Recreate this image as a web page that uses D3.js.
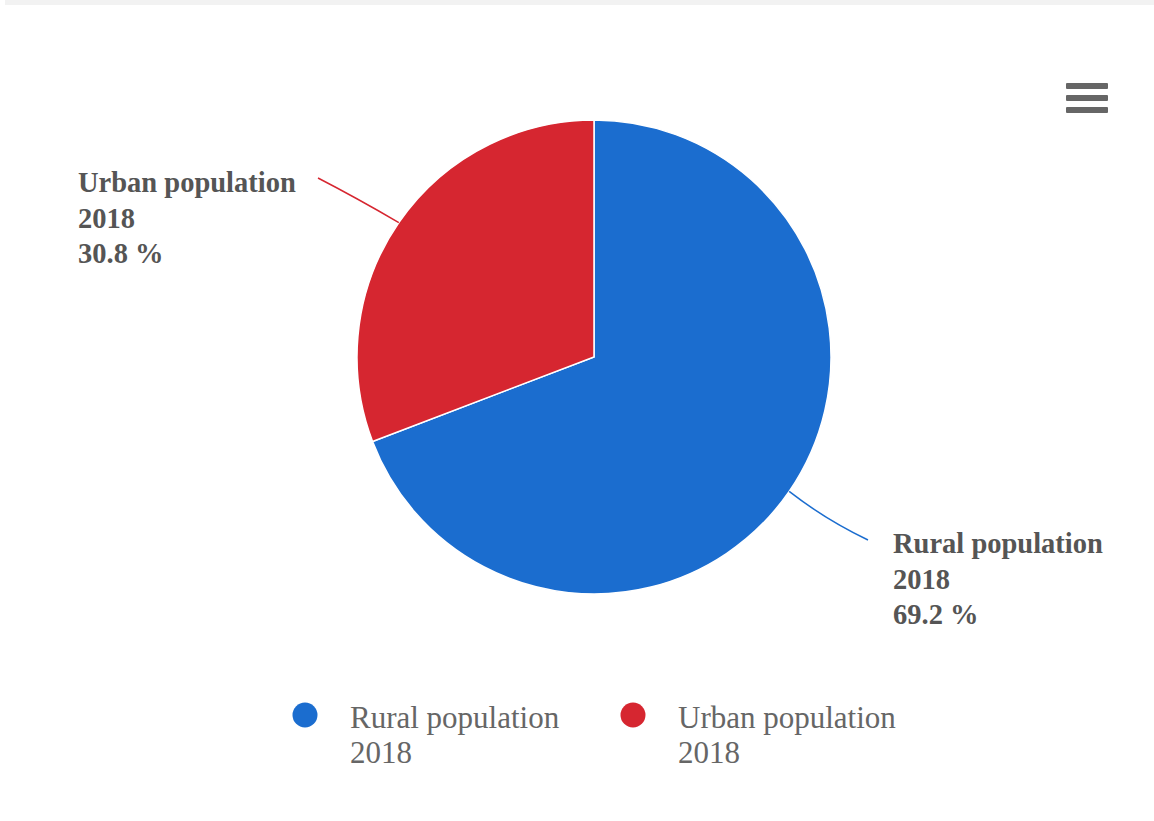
<!DOCTYPE html>
<html><head><meta charset="utf-8">
<script src="https://cdn.jsdelivr.net/npm/d3@7"></script>
<style>body{margin:0;background:#fff;}svg{display:block;}</style>
</head><body>
<svg id="c" width="1154" height="821"></svg>
<script>
const categories = ["Rural population 2018", "Urban population 2018"];
const labelLines = [["Rural population", "2018"], ["Urban population", "2018"]];
const values = [69.2, 30.8];
const colors = ["#1b6dcf", "#d62630"];

const svg = d3.select("#c");
const cx = 594, cy = 357, r = 237;

// faint top border
svg.append("rect").attr("x",5).attr("y",0).attr("width",1149).attr("height",5).attr("fill","#f2f2f2");

const pie = d3.pie().sort(null).value(d => d)(values);
const arc = d3.arc().innerRadius(0).outerRadius(r);
const g = svg.append("g").attr("transform", `translate(${cx},${cy})`);
g.selectAll("path").data(pie).join("path")
  .attr("d", arc).attr("fill", (d,i) => colors[i])
  .attr("stroke", "#fff").attr("stroke-width", 1.5);

// connectors and data labels
const labelPos = [
  {x: 893, y: 553, end: [868, 540]},
  {x: 78, y: 192, end: [318, 178]}
];
pie.forEach((d,i) => {
  const mid = (d.startAngle + d.endAngle)/2;
  const ex = cx + r*Math.sin(mid), ey = cy - r*Math.cos(mid);
  const lp = labelPos[i];
  svg.append("path")
    .attr("d", `M${ex},${ey} Q${(ex+lp.end[0])/2 - 3},${(ey+lp.end[1])/2 + (i===0?4:-3)} ${lp.end[0]},${lp.end[1]}`)
    .attr("fill","none").attr("stroke", colors[i]).attr("stroke-width", 1.5);
  const t = svg.append("text").attr("x", lp.x).attr("y", lp.y)
    .attr("font-family","'Liberation Serif', serif").attr("font-weight","bold")
    .attr("font-size", 28.5).attr("fill","#555");
  const lines = [labelLines[i][0], labelLines[i][1], d3.format(".1f")(values[i]) + " %"];
  lines.forEach((s,k) => t.append("tspan").attr("x", lp.x).attr("y", lp.y + k*35.5).text(s));
});

// legend
const legX = [305, 633];
categories.forEach((c,i) => {
  svg.append("circle").attr("cx", legX[i]).attr("cy", 715).attr("r", 12.5).attr("fill", colors[i]);
  const t = svg.append("text").attr("x", legX[i]+45).attr("y", 728)
    .attr("font-family","'Liberation Serif', serif").attr("font-size", 31).attr("fill","#666");
  labelLines[i].forEach((s,k) => t.append("tspan").attr("x", legX[i]+45).attr("y", 728 + k*35).text(s));
});

// menu icon
[86, 98, 110].forEach(y => svg.append("rect").attr("x",1066).attr("y",y-3).attr("width",42).attr("height",6).attr("rx",1).attr("fill","#666"));
</script>
</body></html>
